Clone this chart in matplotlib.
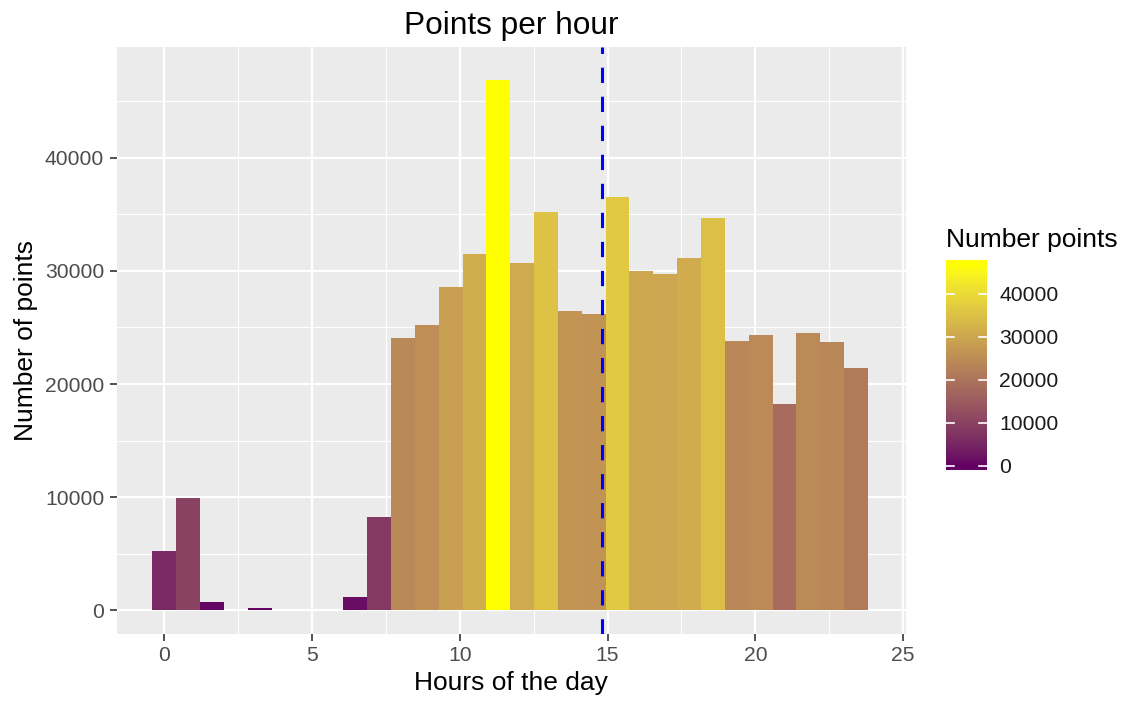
# Histograma de puntos por hora del dia
# con relleno en degradado segun el numero de puntos
# y una linea vertical en la hora media

import numpy as np
import matplotlib
matplotlib.use("Agg")
import matplotlib.pyplot as plt
from matplotlib.colors import ListedColormap, Normalize

# datos
Inicio_bins = -0.40
Ancho_bin = 0.807
Conteos = [
    5250, 9940, 730, 0, 240, 0, 0, 0, 1180, 8200,
    24100, 25200, 28600, 31500, 46900, 30700, 35200, 26500, 26200, 36500,
    30000, 29700, 31100, 34700, 23800, 24300, 18200, 24500, 23700, 21400
]
Hora_media = 14.8

Ticks_x = [0, 5, 10, 15, 20, 25]
Ticks_y = [0, 10000, 20000, 30000, 40000]

# colores del degradado (como scale_fill_gradient)
Color_bajo = "#640064"
Color_alto = "#FFFF00"

plt.rcParams["font.family"] = ["Liberation Sans", "DejaVu Sans"]


def Srgb_a_lab(rgb):
    rgb = np.asarray(rgb, dtype=float)
    c = np.where(rgb <= 0.04045, rgb / 12.92, ((rgb + 0.055) / 1.055) ** 2.4)
    M = np.array([[0.4124564, 0.3575761, 0.1804375],
                  [0.2126729, 0.7151522, 0.0721750],
                  [0.0193339, 0.1191920, 0.9503041]])
    xyz = M @ c / np.array([0.95047, 1.0, 1.08883])
    d = 6 / 29
    f = np.where(xyz > d ** 3, np.cbrt(xyz), xyz / (3 * d ** 2) + 4 / 29)
    return np.array([116 * f[1] - 16, 500 * (f[0] - f[1]), 200 * (f[1] - f[2])])


def Lab_a_srgb(lab):
    L, a, b = lab
    fy = (L + 16) / 116
    fx = fy + a / 500
    fz = fy - b / 200
    d = 6 / 29
    f = np.array([fx, fy, fz])
    xyz = np.where(f > d, f ** 3, 3 * d ** 2 * (f - 4 / 29))
    xyz = xyz * np.array([0.95047, 1.0, 1.08883])
    Minv = np.array([[3.2404542, -1.5371385, -0.4985314],
                     [-0.9692660, 1.8760108, 0.0415560],
                     [0.0556434, -0.2040259, 1.0572252]])
    c = Minv @ xyz
    c = np.clip(c, 0, 1)
    rgb = np.where(c <= 0.0031308, 12.92 * c, 1.055 * c ** (1 / 2.4) - 0.055)
    return np.clip(rgb, 0, 1)


# construir mapa de color interpolado en Lab
Lab_bajo = Srgb_a_lab(matplotlib.colors.to_rgb(Color_bajo))
Lab_alto = Srgb_a_lab(matplotlib.colors.to_rgb(Color_alto))
Colores_mapa = [Lab_a_srgb(Lab_bajo + t * (Lab_alto - Lab_bajo)) for t in np.linspace(0, 1, 256)]
Mapa = ListedColormap(Colores_mapa)

Conteos = np.array(Conteos)
Bordes = Inicio_bins + Ancho_bin * np.arange(len(Conteos))
Norma = Normalize(vmin=0, vmax=Conteos.max())

# figura
fig = plt.figure(figsize=(11.29, 7.07), dpi=100)
ax = fig.add_axes([0.1034, 0.1033, 0.6991, 0.8302])
ax.set_facecolor("#EBEBEB")
for s in ax.spines.values():
    s.set_visible(False)

# grilla
ax.set_xticks(Ticks_x)
ax.set_yticks(Ticks_y)
ax.set_xticks([2.5, 7.5, 12.5, 17.5, 22.5], minor=True)
ax.set_yticks([5000, 15000, 25000, 35000, 45000], minor=True)
ax.grid(which="major", color="white", linewidth=1.6)
ax.grid(which="minor", color="white", linewidth=0.8)
ax.set_axisbelow(True)
ax.tick_params(which="minor", length=0)
ax.tick_params(which="major", length=5, width=1.2, color="#333333",
               labelcolor="#4D4D4D", labelsize=15.2, pad=4)

# barras
ax.bar(
    Bordes,
    Conteos,
    width=Ancho_bin,
    align="edge",
    color=Mapa(Norma(Conteos)),
    linewidth=0
)

# linea de la hora media
ax.axvline(
    Hora_media,
    color="#0000FF",
    linewidth=2.2,
    linestyle=(0, (5, 4.5))
)

ax.set_xlim(-1.61, 25.1)
ax.set_ylim(-2100, 49800)

# titulo y etiquetas
ax.set_title("Points per hour", fontsize=22.8, pad=9.5)
ax.set_xlabel("Hours of the day", fontsize=19, labelpad=4)
ax.set_ylabel("Number of points", fontsize=19, labelpad=5)

# leyenda (barra de color)
cax = fig.add_axes([0.8379, 0.3352, 0.0363, 0.297])
Valor_max = Conteos.max()
Gradiente = np.linspace(-1000, Valor_max + 1000, 400).reshape(-1, 1)
cax.imshow(
    Gradiente,
    extent=[0, 1, -1000, Valor_max + 1000],
    origin="lower",
    aspect="auto",
    cmap=Mapa,
    norm=Norma
)
cax.set_xlim(0, 1)
cax.set_ylim(-1000, Valor_max + 1000)
cax.set_xticks([])
cax.yaxis.tick_right()
cax.set_yticks(Ticks_y)
cax.set_yticklabels([str(v) for v in Ticks_y])
cax.tick_params(axis="y", length=0, pad=9, labelsize=15.2, labelcolor="#1A1A1A")
for s in cax.spines.values():
    s.set_visible(False)
for v in Ticks_y:
    cax.plot([0, 0.2], [v, v], color="white", linewidth=1.2)
    cax.plot([0.8, 1], [v, v], color="white", linewidth=1.2)

fig.text(946 / 1129, 1 - 247 / 707, "Number points", fontsize=19, va="baseline", ha="left")

# guardar grafica
fig.savefig("out.png", dpi=100)
